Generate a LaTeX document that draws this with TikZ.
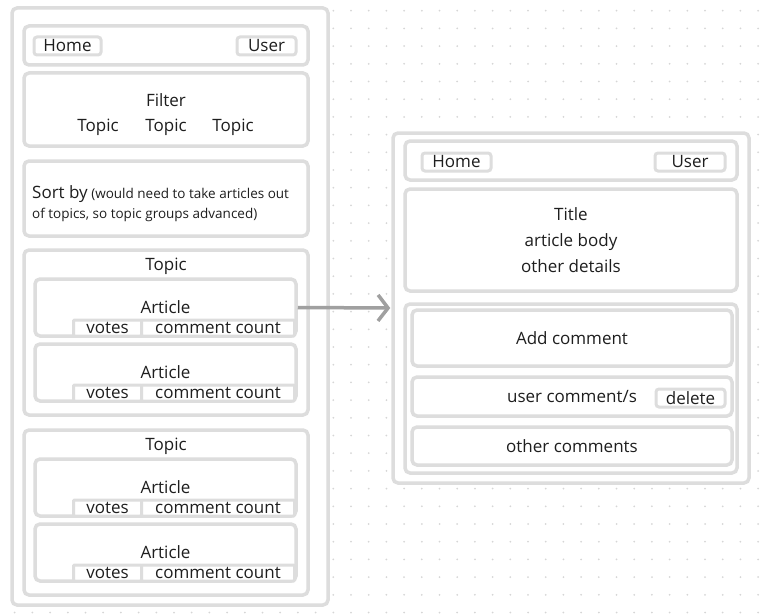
\documentclass[tikz,border=0pt]{standalone}
\usepackage{fontspec}
\setmainfont{Open Sans}
\usepackage{xcolor}
\usetikzlibrary{arrows.meta}

\definecolor{wireline}{HTML}{DDDDDD}
\definecolor{wiretext}{HTML}{1E1E1E}
\definecolor{wirearrow}{HTML}{A0A0A0}
\definecolor{wiredot}{HTML}{D6D6D6}

\begin{document}
\begin{tikzpicture}[
    x=1pt, y=-1pt,
    every node/.style={font=\fontsize{17}{26}\selectfont, text=wiretext},
    box/.style={draw=wireline, line width=3.5pt, rounded corners=5pt, fill=white, inner sep=0pt},
    button/.style={box, line width=3pt, rounded corners=3pt, minimum height=18pt},
    tab/.style={box, line width=3pt, rounded corners=1pt, minimum height=16pt},
    arrow/.style={-{Straight Barb[length=10pt, width=26pt]}, line width=3.5pt, draw=wirearrow, shorten >=1pt}
]
\useasboundingbox (0,0) rectangle (765,615);

% dotted canvas
\foreach \i in {0,...,42}
  \foreach \j in {0,...,34}
    \fill[wiredot] (14.7+17.7*\i, 10.7+17.7*\j) circle (1pt);

% article list page
\node[box, minimum width=316pt, minimum height=597pt] (listpage) at (170,306.5) {};
\node[box, minimum width=284pt, minimum height=39pt] (navL) at (166,45.5) {};
\node[button, minimum width=67pt] (homeL) at (67.5,46) {Home};
\node[button, minimum width=59pt] (userL) at (266.5,46) {User};

\node[box, minimum width=284pt, minimum height=73pt] (filterbox) at (166,109.5) {};
\node (filter) at (166,100) {Filter};
\node (topicA) at (98,127) {Topic};
\node (topicB) at (166,127) {Topic};
\node (topicC) at (233,127) {Topic};

\node[box, minimum width=284pt, minimum height=75pt] (sortbox) at (166,198.5) {};
\node[anchor=west, align=left, inner sep=0pt, font=\fontsize{13.5}{19.5}\selectfont] (sortby) at (32,203.5)
  {{\fontsize{17}{19.5}\selectfont Sort by} (would need to take articles out\\of topics, so topic groups advanced)};

\node[box, minimum width=284pt, minimum height=165pt] (topicbox1) at (166,332.5) {};
\node (topic1) at (166,266) {Topic};
\node[box, minimum width=261pt, minimum height=57pt] (art1) at (165.5,307.5) {Article};
\node[tab, minimum width=68pt] (votes1) at (107.5,328) {votes};
\node[tab, minimum width=153pt] (count1) at (218,328) {comment count};
\node[box, minimum width=261pt, minimum height=57pt] (art2) at (165.5,372.5) {Article};
\node[tab, minimum width=68pt] (votes2) at (107.5,393) {votes};
\node[tab, minimum width=153pt] (count2) at (218,393) {comment count};

\node[box, minimum width=284pt, minimum height=165pt] (topicbox2) at (166,512.5) {};
\node (topic2) at (166,446) {Topic};
\node[box, minimum width=261pt, minimum height=57pt] (art3) at (165.5,487.5) {Article};
\node[tab, minimum width=68pt] (votes3) at (107.5,508) {votes};
\node[tab, minimum width=153pt] (count3) at (218,508) {comment count};
\node[box, minimum width=261pt, minimum height=57pt] (art4) at (165.5,552.5) {Article};
\node[tab, minimum width=68pt] (votes4) at (107.5,573) {votes};
\node[tab, minimum width=153pt] (count4) at (218,573) {comment count};

% single article page
\node[box, minimum width=356pt, minimum height=350pt] (articlepage) at (571,308) {};
\node[box, minimum width=332pt, minimum height=39pt] (navR) at (571,160.5) {};
\node[button, minimum width=69pt] (homeR) at (456.5,162) {Home};
\node[button, minimum width=70pt] (userR) at (690,162) {User};
\node[box, minimum width=332pt, minimum height=102pt, align=center] (bodyR) at (571,240)
  {Title\\article body\\other details};
\node[box, minimum width=332pt, minimum height=169pt] (commentsR) at (571,388.5) {};
\node[box, minimum width=320pt, minimum height=56pt] (addC) at (572,338) {Add comment};
\node[box, minimum width=320pt, minimum height=39pt] (userC) at (572,396.5) {user comment/s};
\node[button, minimum width=69pt] (deleteB) at (690.5,398) {delete};
\node[box, minimum width=320pt, minimum height=38pt] (otherC) at (572,446) {other comments};

\draw[arrow] (art1.east) -- (articlepage.west);
\end{tikzpicture}
\end{document}
